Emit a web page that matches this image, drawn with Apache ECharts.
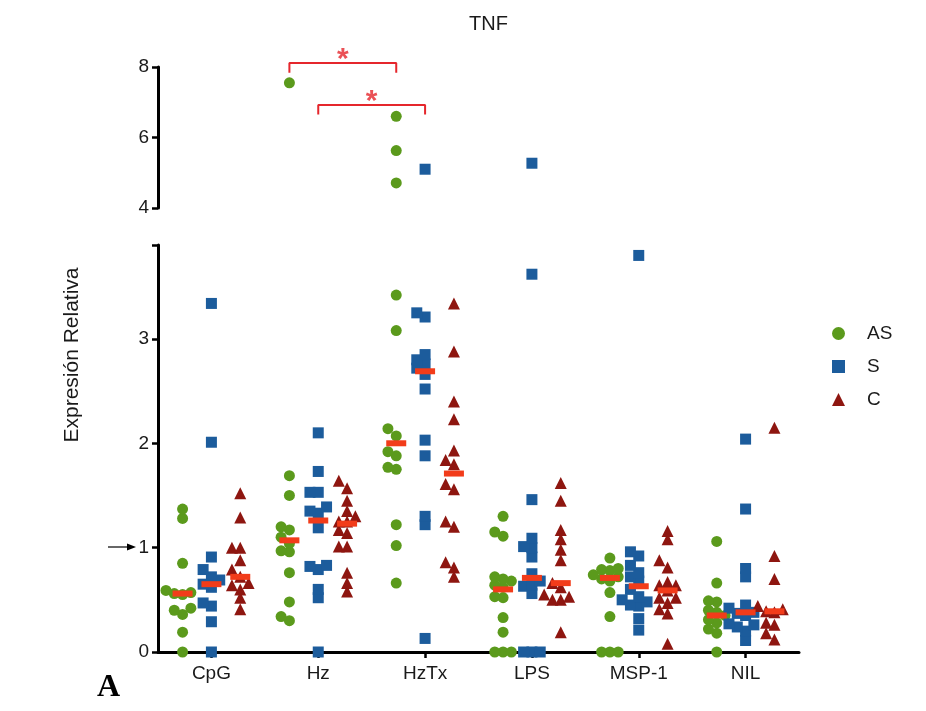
<!DOCTYPE html>
<html><head><meta charset="utf-8">
<script src="https://cdn.jsdelivr.net/npm/echarts@6/dist/echarts.min.js"></script>
<style>html,body{margin:0;padding:0;background:#fff}#c{width:926px;height:711px}</style>
</head><body><div id="c"></div>
<script>
// ---- data ----
const categories = ['CpG', 'Hz', 'HzTx', 'LPS', 'MSP-1', 'NIL'];
const seriesNames = ['AS', 'S', 'C'];

const valuesAS = [
  [1.37, 1.28, 0.85, 0.59, 0.57, 0.56, 0.55, 0.42, 0.40, 0.36, 0.19, 0.0],
  [7.55, 1.69, 1.50, 1.20, 1.17, 1.10, 1.04, 0.97, 0.96, 0.76, 0.48, 0.34, 0.30],
  [6.60, 5.63, 4.71, 3.42, 3.08, 2.14, 2.07, 1.92, 1.88, 1.77, 1.75, 1.22, 1.02, 0.66],
  [1.30, 1.15, 1.11, 0.72, 0.70, 0.68, 0.64, 0.62, 0.53, 0.52, 0.33, 0.19, 0.0, 0.0, 0.0],
  [0.90, 0.80, 0.79, 0.78, 0.74, 0.72, 0.70, 0.68, 0.57, 0.34, 0.0, 0.0, 0.0],
  [1.06, 0.66, 0.49, 0.48, 0.40, 0.38, 0.35, 0.31, 0.28, 0.22, 0.18, 0.0]
];
const valuesS = [
  [3.34, 2.01, 0.91, 0.79, 0.72, 0.69, 0.65, 0.62, 0.47, 0.44, 0.29, 0.0],
  [2.10, 1.73, 1.53, 1.53, 1.39, 1.35, 1.33, 1.19, 0.83, 0.82, 0.79, 0.60, 0.52, 0.0],
  [5.10, 3.25, 3.21, 2.85, 2.80, 2.76, 2.72, 2.66, 2.52, 2.03, 1.88, 1.30, 1.22, 0.13],
  [5.27, 3.62, 1.46, 1.09, 1.01, 1.00, 0.91, 0.75, 0.68, 0.64, 0.63, 0.56, 0.0, 0.0, 0.0],
  [3.80, 0.96, 0.92, 0.83, 0.76, 0.72, 0.68, 0.60, 0.53, 0.50, 0.48, 0.45, 0.44, 0.32, 0.21],
  [2.04, 1.37, 0.80, 0.72, 0.45, 0.42, 0.38, 0.37, 0.35, 0.27, 0.26, 0.24, 0.20, 0.11]
];
const valuesC = [
  [1.52, 1.29, 1.00, 1.00, 0.88, 0.79, 0.72, 0.66, 0.64, 0.60, 0.52, 0.41],
  [1.64, 1.57, 1.45, 1.35, 1.30, 1.25, 1.25, 1.17, 1.14, 1.01, 1.01, 0.76, 0.66, 0.58],
  [3.34, 2.88, 2.40, 2.23, 1.93, 1.84, 1.80, 1.61, 1.56, 1.25, 1.20, 0.86, 0.81, 0.72],
  [1.62, 1.45, 1.17, 1.08, 0.98, 0.88, 0.66, 0.62, 0.55, 0.53, 0.50, 0.50, 0.19],
  [1.16, 1.08, 0.88, 0.81, 0.67, 0.64, 0.64, 0.59, 0.52, 0.52, 0.47, 0.41, 0.37, 0.08],
  [2.15, 0.92, 0.70, 0.44, 0.41, 0.39, 0.38, 0.28, 0.26, 0.18, 0.12]
];
const mediansAS = [0.56, 1.07, 2.00, 0.60, 0.71, 0.35];
const mediansS  = [0.65, 1.26, 2.69, 0.71, 0.63, 0.38];
const mediansC  = [0.72, 1.23, 1.71, 0.66, 0.59, 0.39];

const lowerTicks = [0, 1, 2, 3];
const upperTicks = [4, 6, 8];
// significance brackets: [fromCategory, toCategory, group]
const brackets = [[1, 2, 'AS'], [1, 2, 'S']];

// ---- layout / style ----
const BREAK_LOW = 3.9, BREAK_HIGH = 4;
const colors = { AS: '#5b9a1c', S: '#1c5c9c', C: '#8e1610' };
const symbols = { AS: 'circle', S: 'rect', C: 'triangle' };
const sizes = { AS: 11, S: 11, C: 12 };
const offsets = { AS: -0.27, S: 0, C: 0.27 };
const PX_X = 106.8, PX_LOW = 104, PX_UP = 35.3, STEP = 8.3, MIN_D = 8;

function swarm(vals, ci, off) {
  const sorted = vals.slice().sort((a, b) => a - b);
  const placed = [], low = [], up = [];
  sorted.forEach(v => {
    const py = v <= BREAK_LOW ? v * PX_LOW : 2000 + v * PX_UP;
    let dx = 0;
    for (let k = 0; k < 30; k++) {
      const n = Math.ceil(k / 2);
      const cand = k === 0 ? 0 : (k % 2 ? -n : n) * STEP;
      if (placed.every(p => Math.hypot(p[0] - cand, p[1] - py) >= MIN_D)) { dx = cand; break; }
    }
    placed.push([dx, py]);
    const pt = [ci + off + dx / PX_X, v];
    (v <= BREAK_LOW ? low : up).push(pt);
  });
  return { low, up };
}

const groupData = { AS: valuesAS, S: valuesS, C: valuesC };
const groupMed = { AS: mediansAS, S: mediansS, C: mediansC };
const series = [];
seriesNames.forEach(name => {
  const low = [], up = [];
  groupData[name].forEach((vals, ci) => {
    const r = swarm(vals, ci, offsets[name]);
    low.push(...r.low); up.push(...r.up);
  });
  const base = {
    name, type: 'scatter', symbol: symbols[name], symbolSize: sizes[name],
    itemStyle: { color: colors[name], opacity: 1 }, clip: false, z: 2,
    emphasis: { disabled: true }
  };
  series.push(Object.assign({}, base, { xAxisIndex: 1, yAxisIndex: 0, data: low }));
  series.push(Object.assign({}, base, { xAxisIndex: 2, yAxisIndex: 1, data: up }));
});
seriesNames.forEach(name => {
  series.push({
    name: 'median ' + name, type: 'scatter', symbol: 'rect', symbolSize: [20, 6],
    xAxisIndex: 1, yAxisIndex: 0, clip: false, z: 5,
    itemStyle: { color: '#f23c1a', opacity: 1 }, emphasis: { disabled: true },
    data: groupMed[name].map((m, ci) => [ci + offsets[name], m])
  });
});
const bracketTops = [8.11, 6.92], bracketDrop = 0.27, starLift = [0.30, 0.30];
brackets.forEach((b, i) => {
  const x1 = b[0] + offsets[b[2]], x2 = b[1] + offsets[b[2]];
  const t = bracketTops[i];
  series.push({
    type: 'line', xAxisIndex: 2, yAxisIndex: 1, clip: false, symbol: 'none', silent: true, z: 6,
    lineStyle: { color: '#e5262c', width: 2 },
    data: [[x1, t - bracketDrop], [x1, t], [x2, t], [x2, t - bracketDrop]]
  });
  series.push({
    type: 'scatter', xAxisIndex: 2, yAxisIndex: 1, clip: false, symbolSize: 1, silent: true, z: 6,
    itemStyle: { color: 'rgba(0,0,0,0)' },
    label: { show: true, position: 'inside', formatter: '*', color: '#e5262c', fontSize: 30, fontWeight: 'bold', fontFamily: 'Liberation Sans', offset: [0, 7] },
    data: [[(x1 + x2) / 2, t + starLift[i]]]
  });
});

const tickStyle = { show: true, length: 6, lineStyle: { color: '#000', width: 2.5 } };
const labelStyle = { color: '#1a1a1a', fontSize: 19, fontFamily: 'Liberation Sans', margin: 9 };
const axisLineStyle = { show: true, onZero: false, lineStyle: { color: '#000', width: 3 } };

const chart = echarts.init(document.getElementById('c'), null, { renderer: 'canvas' });
chart.setOption({
  animation: false,
  backgroundColor: '#fff',
  title: { text: 'TNF', left: 464, top: 9, textStyle: { fontSize: 20, fontWeight: 'normal', color: '#1a1a1a', fontFamily: 'Liberation Sans' } },
  legend: {
    data: seriesNames, orient: 'vertical', left: 827, top: 319, itemWidth: 13, itemHeight: 13, itemGap: 14,
    textStyle: { fontSize: 19, color: '#1a1a1a', fontFamily: 'Liberation Sans', padding: [0, 0, 0, 17] }
  },
  grid: [
    { left: 158, right: 127, top: 245, bottom: 59 },
    { left: 158, right: 127, top: 67, bottom: 503 }
  ],
  xAxis: [
    {
      type: 'category', gridIndex: 0, data: categories, boundaryGap: true,
      axisLine: axisLineStyle,
      axisTick: Object.assign({ alignWithLabel: true }, tickStyle),
      splitLine: { show: false },
      axisLabel: { color: '#1a1a1a', fontSize: 19, fontFamily: 'Liberation Sans', margin: 12 }
    },
    { type: 'value', gridIndex: 0, min: -0.5, max: 5.5, show: false },
    { type: 'value', gridIndex: 1, min: -0.5, max: 5.5, show: false }
  ],
  yAxis: [
    {
      type: 'value', gridIndex: 0, min: 0, max: BREAK_LOW,
      axisLine: axisLineStyle, splitLine: { show: false },
      axisTick: Object.assign({ customValues: lowerTicks.concat([BREAK_LOW]) }, tickStyle),
      axisLabel: Object.assign({ customValues: lowerTicks }, labelStyle)
    },
    {
      type: 'value', gridIndex: 1, min: BREAK_HIGH, max: 8, interval: 2,
      axisLine: axisLineStyle, splitLine: { show: false },
      axisTick: Object.assign({ customValues: upperTicks }, tickStyle),
      axisLabel: Object.assign({ customValues: upperTicks }, labelStyle)
    }
  ],
  graphic: [
    { type: 'text', x: 72, y: 355, rotation: Math.PI / 2,
      style: { text: 'Expresión Relativa', fontSize: 21, fontFamily: 'Liberation Sans', fill: '#1a1a1a', align: 'center', verticalAlign: 'middle' } },
    { type: 'line', shape: { x1: 108, y1: 547, x2: 130, y2: 547 }, style: { stroke: '#000', lineWidth: 1.2 } },
    { type: 'polygon', shape: { points: [[127, 543.5], [136, 547], [127, 550.5]] }, style: { fill: '#000' } },
    { type: 'text', x: 97, y: 672, style: { text: 'A', fontSize: 32, fontWeight: 'bold', fontFamily: 'Liberation Serif', fill: '#000' } }
  ],
  series
});
</script></body></html>
